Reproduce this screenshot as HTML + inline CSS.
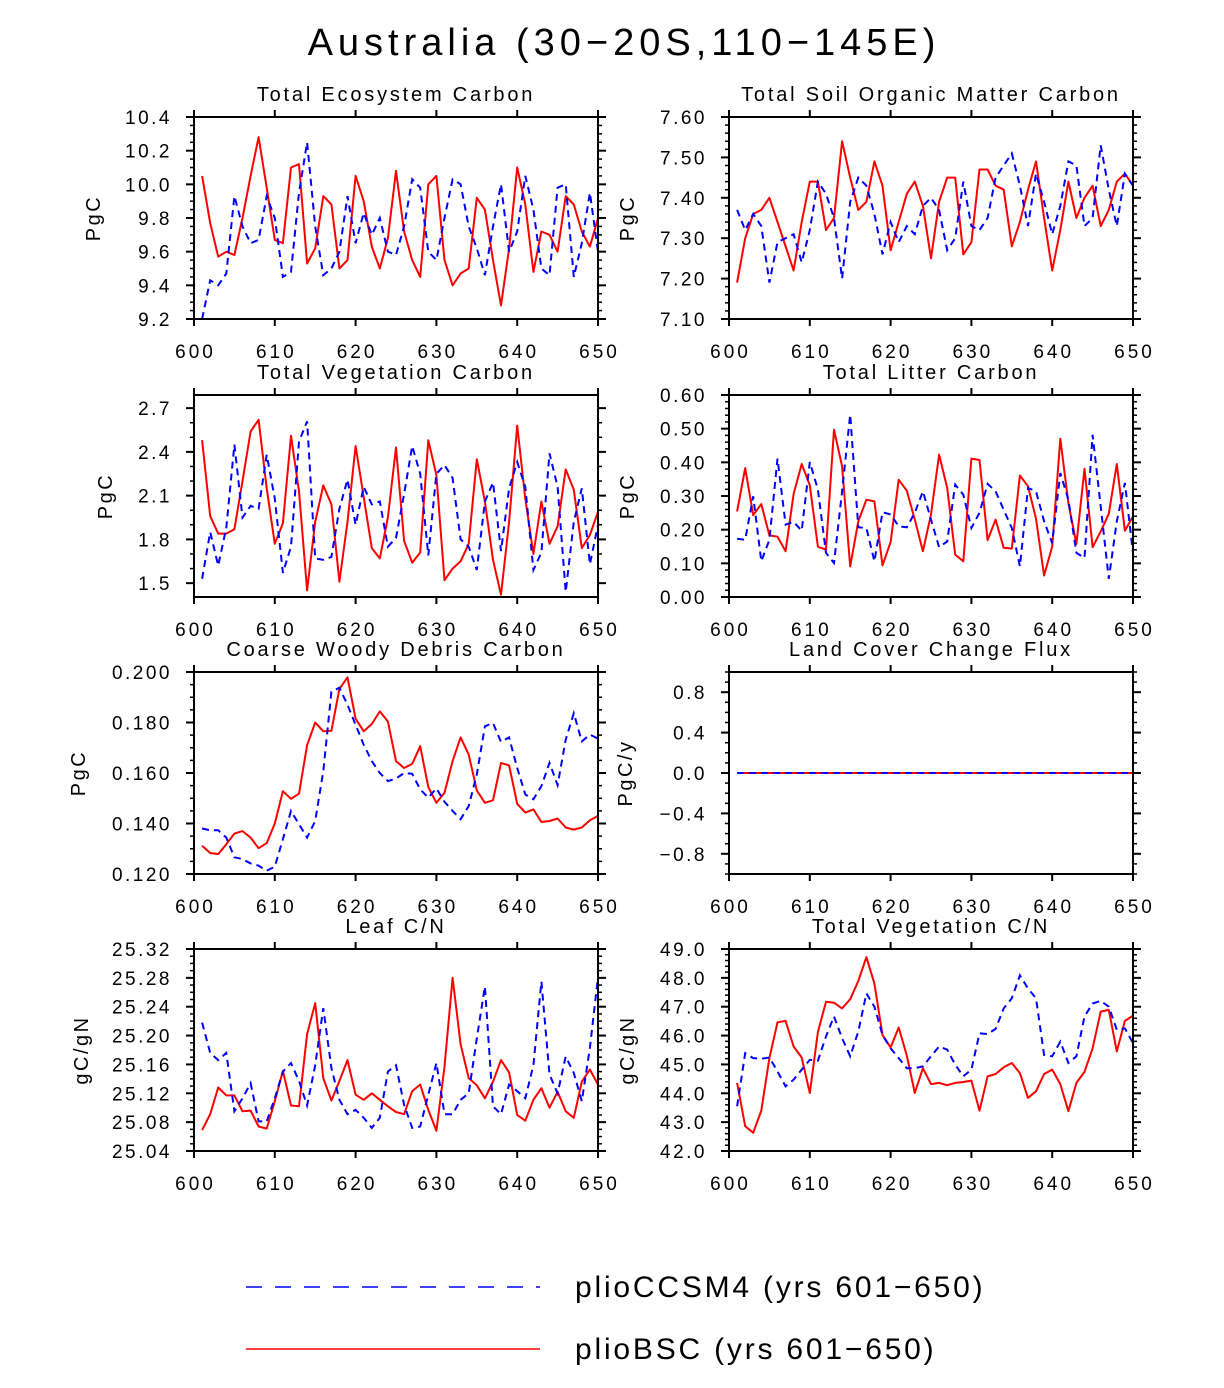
<!DOCTYPE html>
<html><head><meta charset="utf-8">
<style>
html,body{margin:0;padding:0;background:#fff;}
svg{display:block;font-family:"Liberation Sans",sans-serif;}
</style></head>
<body>
<svg id="chart" width="1224" height="1388" viewBox="0 0 1224 1388">
<text x="624" y="55" font-size="38" text-anchor="middle" letter-spacing="5">Australia (30−20S,110−145E)</text>
<g id="panels"></g>
<g>
<line x1="246" y1="1287" x2="540" y2="1287" stroke="#0000ff" stroke-width="1.5" stroke-dasharray="16,13"/>
<text x="575" y="1297" font-size="30" letter-spacing="2.8">plioCCSM4 (yrs 601−650)</text>
<line x1="246" y1="1349" x2="540" y2="1349" stroke="#ff0000" stroke-width="1.5"/>
<text x="575" y="1359" font-size="30" letter-spacing="2.8">plioBSC (yrs 601−650)</text>
</g>
</svg>
<script>
const years = [];
for (let y = 601; y <= 650; y++) years.push(y);
const xTickLabels = [600, 610, 620, 630, 640, 650];

const ecoRed = [10.05,9.77,9.57,9.6,9.58,9.8,10.05,10.28,9.98,9.67,9.65,10.1,10.12,9.53,9.62,9.93,9.88,9.5,9.55,10.05,9.9,9.63,9.5,9.68,10.08,9.72,9.55,9.45,10.0,10.05,9.55,9.4,9.47,9.5,9.92,9.85,9.55,9.28,9.62,10.1,9.88,9.48,9.72,9.7,9.6,9.93,9.88,9.72,9.63,9.8];
const ecoBlue = [9.2,9.43,9.4,9.47,9.93,9.75,9.65,9.67,9.93,9.8,9.45,9.48,9.95,10.25,9.75,9.46,9.5,9.6,9.93,9.65,9.83,9.7,9.8,9.6,9.58,9.75,10.03,9.98,9.6,9.55,9.8,10.03,10.0,9.75,9.62,9.46,9.75,10.0,9.6,9.72,10.05,9.85,9.5,9.46,9.98,10.0,9.45,9.65,9.95,9.6];
const soilRed = [7.19,7.30,7.36,7.37,7.40,7.34,7.28,7.22,7.34,7.44,7.44,7.32,7.35,7.54,7.45,7.37,7.39,7.49,7.43,7.27,7.34,7.41,7.44,7.38,7.25,7.39,7.45,7.45,7.26,7.29,7.47,7.47,7.43,7.42,7.28,7.34,7.42,7.49,7.35,7.22,7.32,7.44,7.35,7.40,7.43,7.33,7.37,7.44,7.46,7.43];
const soilBlue = [7.37,7.32,7.36,7.33,7.19,7.29,7.30,7.31,7.24,7.32,7.44,7.41,7.35,7.20,7.39,7.45,7.43,7.36,7.26,7.34,7.29,7.33,7.31,7.38,7.40,7.37,7.27,7.30,7.44,7.33,7.32,7.35,7.45,7.48,7.51,7.43,7.33,7.46,7.39,7.31,7.38,7.49,7.48,7.33,7.35,7.53,7.42,7.33,7.46,7.43];
const vegRed = [2.48,1.96,1.84,1.84,1.87,2.20,2.54,2.62,2.15,1.77,1.91,2.51,2.13,1.45,1.92,2.17,2.04,1.51,1.92,2.44,2.09,1.74,1.67,1.95,2.43,1.79,1.64,1.71,2.48,2.24,1.52,1.60,1.65,1.77,2.35,2.06,1.66,1.42,1.92,2.58,2.08,1.70,2.06,1.77,1.89,2.28,2.14,1.74,1.83,1.99];
const vegBlue = [1.53,1.85,1.62,1.88,2.45,1.95,2.03,2.01,2.38,2.08,1.57,1.75,2.47,2.61,1.67,1.66,1.68,2.01,2.21,1.90,2.16,2.04,2.06,1.75,1.81,2.11,2.44,2.25,1.69,2.25,2.31,2.22,1.80,1.75,1.59,2.06,2.19,1.72,2.15,2.33,2.16,1.59,1.71,2.39,2.16,1.44,1.92,2.15,1.63,1.90];
const litRed = [0.254,0.383,0.243,0.276,0.183,0.179,0.136,0.306,0.395,0.332,0.149,0.141,0.497,0.388,0.091,0.225,0.289,0.284,0.094,0.163,0.348,0.316,0.230,0.136,0.245,0.423,0.324,0.126,0.106,0.411,0.407,0.169,0.230,0.146,0.144,0.361,0.329,0.233,0.064,0.150,0.470,0.279,0.157,0.381,0.148,0.195,0.247,0.395,0.197,0.240];
const litBlue = [0.173,0.170,0.299,0.106,0.170,0.411,0.215,0.223,0.197,0.401,0.319,0.131,0.101,0.314,0.542,0.207,0.205,0.106,0.252,0.245,0.210,0.207,0.250,0.314,0.230,0.148,0.165,0.334,0.304,0.205,0.250,0.336,0.314,0.259,0.205,0.091,0.324,0.314,0.225,0.160,0.368,0.289,0.131,0.116,0.482,0.269,0.054,0.225,0.339,0.130];
const cwdRed = [0.1312,0.1283,0.1279,0.1318,0.136,0.137,0.1344,0.1302,0.1322,0.140,0.1528,0.1498,0.1518,0.171,0.180,0.1765,0.1767,0.1933,0.1979,0.1815,0.1765,0.1794,0.1844,0.1804,0.1647,0.162,0.1636,0.1706,0.1544,0.1482,0.1522,0.1647,0.1741,0.1673,0.1531,0.1482,0.1492,0.164,0.163,0.1478,0.1443,0.1456,0.1406,0.141,0.142,0.1384,0.1376,0.1384,0.1413,0.143];
const cwdBlue = [0.138,0.1373,0.1373,0.1344,0.1266,0.1259,0.1242,0.1233,0.1213,0.1229,0.1338,0.1450,0.1397,0.1344,0.141,0.1607,0.1922,0.1938,0.187,0.1791,0.1712,0.1647,0.160,0.1568,0.1578,0.160,0.1597,0.1535,0.1502,0.1539,0.1486,0.1450,0.1417,0.1469,0.1594,0.1785,0.1798,0.1723,0.1741,0.162,0.1515,0.1496,0.1548,0.164,0.1552,0.1732,0.1837,0.1725,0.1752,0.1736];
const lccRed = [0,0,0,0,0,0,0,0,0,0,0,0,0,0,0,0,0,0,0,0,0,0,0,0,0,0,0,0,0,0,0,0,0,0,0,0,0,0,0,0,0,0,0,0,0,0,0,0,0,0];
const lccBlue = [0,0,0,0,0,0,0,0,0,0,0,0,0,0,0,0,0,0,0,0,0,0,0,0,0,0,0,0,0,0,0,0,0,0,0,0,0,0,0,0,0,0,0,0,0,0,0,0,0,0];
const leafRed = [25.069,25.091,25.128,25.117,25.117,25.095,25.096,25.074,25.071,25.109,25.151,25.103,25.102,25.202,25.245,25.141,25.110,25.137,25.166,25.118,25.111,25.120,25.111,25.102,25.094,25.091,25.123,25.132,25.097,25.068,25.157,25.280,25.188,25.141,25.131,25.113,25.136,25.166,25.149,25.090,25.082,25.111,25.127,25.100,25.122,25.095,25.086,25.136,25.153,25.132];
const leafBlue = [25.218,25.176,25.166,25.176,25.095,25.113,25.134,25.081,25.081,25.113,25.150,25.162,25.137,25.103,25.159,25.238,25.155,25.111,25.091,25.097,25.086,25.072,25.086,25.150,25.159,25.104,25.072,25.074,25.118,25.162,25.091,25.091,25.111,25.120,25.196,25.268,25.102,25.091,25.132,25.123,25.113,25.159,25.275,25.146,25.120,25.171,25.148,25.109,25.183,25.281];
const vcnRed = [44.36,42.86,42.63,43.40,45.22,46.46,46.51,45.62,45.24,44.01,46.12,47.17,47.14,46.94,47.26,47.89,48.72,47.80,46.02,45.59,46.28,45.31,44.01,44.87,44.32,44.36,44.28,44.36,44.39,44.44,43.40,44.59,44.67,44.90,45.05,44.70,43.84,44.07,44.67,44.82,44.32,43.38,44.36,44.74,45.56,46.83,46.89,45.45,46.51,46.69];
const vcnBlue = [43.55,45.39,45.22,45.20,45.24,44.76,44.24,44.47,44.82,45.16,45.13,45.97,46.66,45.91,45.28,46.14,47.46,47.00,46.02,45.56,45.22,44.87,44.87,44.93,45.28,45.62,45.51,44.99,44.59,44.82,46.08,46.05,46.23,46.94,47.29,48.09,47.63,47.29,45.33,45.28,45.79,45.05,45.28,46.66,47.11,47.20,47.00,46.20,46.25,45.74];

const NS = "http://www.w3.org/2000/svg";
const root = document.getElementById('panels');
function mk(tag, attrs, parent) {
  const e = document.createElementNS(NS, tag);
  for (const k in attrs) e.setAttribute(k, attrs[k]);
  parent.appendChild(e);
  return e;
}
const panels = [
  {name:'total-ecosystem-carbon', title:'Total Ecosystem Carbon', unit:'PgC', col:0, row:0, min:9.2, max:10.4, major:0.2, minor:0.05, dec:1, red:ecoRed, blue:ecoBlue, ux:100},
  {name:'total-soil-carbon', title:'Total Soil Organic Matter Carbon', unit:'PgC', col:1, row:0, min:7.1, max:7.6, major:0.1, minor:0.02, dec:2, red:soilRed, blue:soilBlue, ux:634},
  {name:'total-vegetation-carbon', title:'Total Vegetation Carbon', unit:'PgC', col:0, row:1, min:1.405, max:2.79, major:0.3, minor:0.1, dec:1, tstart:1.5, red:vegRed, blue:vegBlue, ux:112},
  {name:'total-litter-carbon', title:'Total Litter Carbon', unit:'PgC', col:1, row:1, min:0, max:0.6, major:0.1, minor:0.02, dec:2, red:litRed, blue:litBlue, ux:634},
  {name:'coarse-woody-debris-carbon', title:'Coarse Woody Debris Carbon', unit:'PgC', col:0, row:2, min:0.12, max:0.2, major:0.02, minor:0.005, dec:3, red:cwdRed, blue:cwdBlue, ux:85},
  {name:'land-cover-change-flux', title:'Land Cover Change Flux', unit:'PgC/y', col:1, row:2, min:-1, max:1, major:0.4, minor:0.1, dec:1, tstart:-0.8, red:lccRed, blue:lccBlue, ux:632},
  {name:'leaf-cn', title:'Leaf C/N', unit:'gC/gN', col:0, row:3, min:25.04, max:25.32, major:0.04, minor:0.01, dec:2, red:leafRed, blue:leafBlue, ux:88},
  {name:'total-vegetation-cn', title:'Total Vegetation C/N', unit:'gC/gN', col:1, row:3, min:42, max:49, major:1, minor:0.2, dec:1, red:vcnRed, blue:vcnBlue, ux:634}
];
const colX = [194, 729], W = 404;
const rowY = [117, 395, 672, 949], H = 202;

panels.forEach(p => {
  const x0 = colX[p.col], y0 = rowY[p.row];
  const g = mk('g', {}, root);
  
  
  const xs = v => x0 + (v - 600) / 50 * W;
  const ys = v => y0 + H - (v - p.min) / (p.max - p.min) * H;
  const t = mk('text', {x: x0 + W/2, y: y0 - 16, 'font-size': 20, 'text-anchor': 'middle', 'letter-spacing': 2.8}, g);
  
  
  t.textContent = p.title;
  const ut = mk('text', {x: p.ux, y: y0 + H/2, 'font-size': 20, 'text-anchor': 'middle', transform: `rotate(-90 ${p.ux} ${y0 + H/2})`, 'letter-spacing': 2.5}, g);
  
  
  ut.textContent = p.unit;
  const tk = mk('g', {stroke: '#000', 'stroke-width': 1.5}, g);
  
  
  const eps = 1e-9;
  const mstart = Math.ceil((p.min - eps) / p.minor) * p.minor;
  for (let v = mstart; v <= p.max + eps; v += p.minor) {
    const y = ys(v);
    mk('line', {x1: x0 - 4, y1: y, x2: x0, y2: y}, tk);
    mk('line', {x1: x0 + W, y1: y, x2: x0 + W + 4, y2: y}, tk);
  }
  const tstart = p.tstart !== undefined ? p.tstart : Math.ceil((p.min - eps) / p.major) * p.major;
  for (let v = tstart; v <= p.max + 1e-6; v += p.major) {
    const y = ys(v);
    mk('line', {x1: x0 - 8, y1: y, x2: x0, y2: y, 'stroke-width': 2}, tk);
    mk('line', {x1: x0 + W, y1: y, x2: x0 + W + 8, y2: y, 'stroke-width': 2}, tk);
    const lab = mk('text', {x: x0 - 22, y: y + 7, 'font-size': 19, 'text-anchor': 'end', stroke: 'none', 'letter-spacing': 2.5}, g);
    
    
    lab.textContent = (Math.abs(v) < 1e-9 ? 0 : v).toFixed(p.dec).replace('-', '−');
  }
  xTickLabels.forEach(v => {
    const x = xs(v);
    mk('line', {x1: x, y1: y0 + H, x2: x, y2: y0 + H + 7, 'stroke-width': 2}, tk);
    mk('line', {x1: x, y1: y0 - 7, x2: x, y2: y0, 'stroke-width': 2}, tk);
    const lab = mk('text', {x: x + 1.5, y: y0 + H + 39, 'font-size': 19, 'text-anchor': 'middle', stroke: 'none', 'letter-spacing': 3}, g);
    
    
    lab.textContent = v;
  });
  const redPts = p.red.map((v, i) => xs(years[i]).toFixed(1) + ',' + ys(v).toFixed(1)).join(' ');
  const bluePts = p.blue.map((v, i) => xs(years[i]).toFixed(1) + ',' + ys(v).toFixed(1)).join(' ');
  const rl = mk('polyline', {points: redPts, fill: 'none', stroke: '#ff0000', 'stroke-width': 2, 'stroke-linejoin': 'round'}, g);
  
  
  const bl = mk('polyline', {points: bluePts, fill: 'none', stroke: '#0000ff', 'stroke-width': 2, 'stroke-dasharray': '7,5'}, g);
  
  
  const fr = mk('rect', {x: x0, y: y0, width: W, height: H, fill: 'none', stroke: '#000', 'stroke-width': 2}, g);
  
  
});
</script>
</body></html>
